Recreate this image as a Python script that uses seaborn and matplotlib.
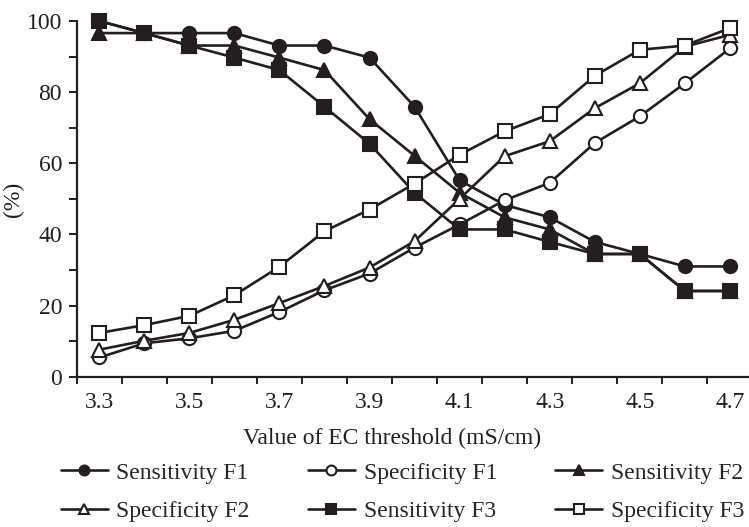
import matplotlib
matplotlib.use("Agg")
import matplotlib.pyplot as plt
from matplotlib.ticker import FixedLocator
import pandas as pd
import seaborn as sns

# EC threshold values (mS/cm)
thresholds = [3.3, 3.4, 3.5, 3.6, 3.7, 3.8, 3.9, 4.0, 4.1, 4.2, 4.3, 4.4, 4.5, 4.6, 4.7]

sens_f1 = [100, 96.6, 96.6, 96.6, 93.1, 93.1, 89.7, 75.9, 55.2, 48.3, 44.8, 37.9, 34.5, 31.0, 31.0]
spec_f1 = [5.4, 9.4, 10.8, 12.9, 18.2, 24.3, 29.0, 36.3, 42.8, 49.6, 54.5, 65.7, 73.2, 82.5, 92.3]
sens_f2 = [96.6, 96.6, 93.1, 93.1, 89.7, 86.2, 72.4, 62.1, 51.7, 44.8, 41.4, 34.5, 34.5, 24.1, 24.1]
spec_f2 = [7.6, 10.1, 12.3, 16.0, 20.7, 25.5, 30.7, 38.1, 50.0, 62.0, 66.2, 75.5, 82.5, 92.8, 96.1]
sens_f3 = [100, 96.6, 93.1, 89.7, 86.2, 75.9, 65.5, 51.7, 41.4, 41.4, 37.9, 34.5, 34.5, 24.1, 24.1]
spec_f3 = [12.3, 14.5, 17.1, 22.9, 30.9, 40.9, 47.0, 54.3, 62.4, 69.0, 73.8, 84.6, 91.9, 93.1, 98.0]

x_labels = ["3.3", "3.5", "3.7", "3.9", "4.1", "4.3", "4.5", "4.7"]
y_ticks = [0, 20, 40, 60, 80, 100]

series = [
    ("Sensitivity F1", sens_f1, "o", True),
    ("Specificity F1", spec_f1, "o", False),
    ("Sensitivity F2", sens_f2, "^", True),
    ("Specificity F2", spec_f2, "^", False),
    ("Sensitivity F3", sens_f3, "s", True),
    ("Specificity F3", spec_f3, "s", False),
]

sns.set_theme(style="ticks")
plt.rcParams["font.family"] = ["Liberation Serif", "DejaVu Serif"]
FS = 17
ink = "#231f20"

fig = plt.figure(figsize=(7.49, 5.27), dpi=100)
ax = fig.add_axes([76.7 / 749, (527 - 376.7) / 527, (749 - 76.7) / 749, (376.7 - 21) / 527])

for name, vals, mk, filled in series:
    df = pd.DataFrame({"thr": thresholds, "pct": vals})
    sns.lineplot(data=df, x="thr", y="pct", ax=ax, color=ink, lw=1.9,
                 marker=mk, markersize=9.5, mec=ink, mew=1.5,
                 mfc=ink if filled else "white", clip_on=False, label=name)

h, l = ax.get_legend_handles_labels()
ax.get_legend().remove()
lookup = dict(zip(l, h))
# row-wise order in a 3-column legend (matplotlib fills by column)
order = ["Sensitivity F1", "Specificity F2", "Specificity F1",
         "Sensitivity F3", "Sensitivity F2", "Specificity F3"]
fig.legend([lookup[k] for k in order], order, loc="upper left",
           bbox_to_anchor=(60.5 / 749, 1 - 462 / 527), ncol=3, frameon=False,
           fontsize=FS, handlelength=2.0, handletextpad=0.37, columnspacing=2.45,
           labelspacing=0.72, borderpad=0, borderaxespad=0, markerscale=0.75)

ax.set_xlim(3.25, 3.25 + 672.3 / 450.5)
ax.set_ylim(0, 100)
ax.xaxis.set_major_locator(FixedLocator([float(s) for s in x_labels]))
ax.set_xticklabels(x_labels)
ax.xaxis.set_minor_locator(FixedLocator([3.25 + 0.1 * i for i in range(16)]))
ax.set_yticks(y_ticks)
ax.yaxis.set_minor_locator(FixedLocator([10, 30, 50, 70, 90]))

ax.tick_params(axis="x", which="major", length=0, pad=11, labelsize=FS, colors=ink)
ax.tick_params(axis="x", which="minor", length=5, width=1.4, color=ink)
ax.tick_params(axis="y", which="both", length=6, width=1.4, pad=4.5, labelsize=FS, colors=ink)

sns.despine(ax=ax)
for sp in ("left", "bottom"):
    ax.spines[sp].set_linewidth(1.6)
    ax.spines[sp].set_color(ink)

ax.set_xlabel("")
ax.set_ylabel("")
fig.text(391.7 / 749, 1 - 438 / 527, "Value of EC threshold (mS/cm)", ha="center", va="center",
         fontsize=FS, color=ink)
fig.text(13 / 749, 1 - 199 / 527, "(%)", ha="center", va="center", rotation=90,
         fontsize=FS, color=ink)

fig.savefig("out.png", dpi=100)
